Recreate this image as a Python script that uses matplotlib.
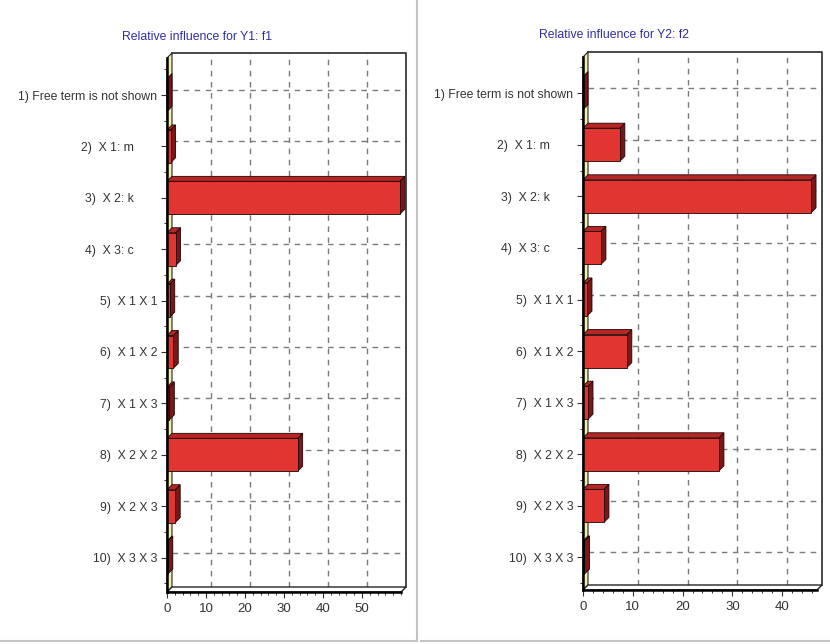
import matplotlib.pyplot as plt
from matplotlib.patches import Polygon, Rectangle
from matplotlib.lines import Line2D
from matplotlib.ticker import MultipleLocator, FixedLocator

plt.rcParams['font.family'] = ['Liberation Sans', 'DejaVu Sans']

labels = ['1) Free term is not shown', '2)  X 1: m\u00a0\u00a0\u00a0\u00a0\u00a0\u00a0\u00a0',
          '3)  X 2: k\u00a0\u00a0\u00a0\u00a0\u00a0\u00a0\u00a0', '4)  X 3: c\u00a0\u00a0\u00a0\u00a0\u00a0\u00a0\u00a0',
          '5)  X 1 X 1', '6)  X 1 X 2', '7)  X 1 X 3', '8)  X 2 X 2',
          '9)  X 2 X 3', '10)  X 3 X 3']
infl_y1 = [0.0, 0.9, 59.7, 2.2, 0.7, 1.6, 0.6, 33.5, 2.1, 0.2]
infl_y2 = [0.0, 7.4, 45.8, 3.6, 0.8, 8.8, 1.0, 27.3, 4.2, 0.3]

W, H = 830, 644
fig = plt.figure(figsize=(W / 100, H / 100), dpi=100)

DEPTH = 5  # px, depth of the 3d effect
FRONT = '#e03530'
TOP = '#b82525'
SIDE = '#7c1717'
WALL = '#f3efa6'


def px_axes(x0, y0, x1, y1):
    # axes from pixel box (top-left origin)
    return fig.add_axes([x0 / W, (H - y1) / H, (x1 - x0) / W, (y1 - y0) / H])


def draw_panel(ax, values, xmax, xticks, ylim, title, title_xy):
    n = len(values)
    ax.set_xlim(0, xmax)
    ax.set_ylim(*ylim)
    ax.patch.set_visible(False)
    for s in ['top', 'right']:
        ax.spines[s].set_visible(False)
    for s in ['left', 'bottom']:
        ax.spines[s].set_linewidth(1.8)
        ax.spines[s].set_color('black')
        ax.spines[s].set_zorder(6)

    # depth offset in data units
    p0 = ax.transData.transform((0, 0))
    dx, dy = ax.transData.inverted().transform((p0[0] + DEPTH, p0[1] + DEPTH))
    ybot, ytop = ylim

    # back wall grid
    for gx in xticks[1:]:
        ax.add_line(Line2D([gx + dx, gx + dx], [ybot + dy, ytop + dy], color='#7a7a7a',
                           lw=1.0, ls=(0, (4, 4)), clip_on=False, zorder=1))
    for i in range(n):
        ax.add_line(Line2D([dx, xmax + dx], [i + dy, i + dy], color='#7a7a7a',
                           lw=1.0, ls=(0, (4, 4)), clip_on=False, zorder=1))
    # back frame
    ax.add_line(Line2D([dx, xmax + dx, xmax + dx], [ytop + dy, ytop + dy, ybot + dy],
                       color='#3a3a3a', lw=1.3, clip_on=False, zorder=2))

    # left wall and floor
    ax.add_patch(Polygon([(0, ytop), (dx, ytop + dy), (dx, ybot + dy), (0, ybot)],
                         closed=True, facecolor=WALL, edgecolor='#222222', lw=0.8,
                         clip_on=False, zorder=3))
    ax.add_patch(Polygon([(0, ybot), (xmax, ybot), (xmax + dx, ybot + dy), (dx, ybot + dy)],
                         closed=True, facecolor='white', edgecolor='#222222', lw=1.0,
                         clip_on=False, zorder=3))

    # bars
    h = 0.32
    for i, v in enumerate(values):
        yt, yb = i - h, i + h
        ax.add_patch(Polygon([(v, yt), (v + dx, yt + dy), (v + dx, yb + dy), (v, yb)],
                             closed=True, facecolor=SIDE, edgecolor='#1a0505', lw=0.6,
                             clip_on=False, zorder=4))
        if v > 0:
            ax.add_patch(Polygon([(0, yt), (v, yt), (v + dx, yt + dy), (dx, yt + dy)],
                                 closed=True, facecolor=TOP, edgecolor='#1a0505', lw=0.6,
                                 clip_on=False, zorder=4))
            ax.add_patch(Rectangle((0, yt), v, 2 * h, facecolor=FRONT,
                                   edgecolor='#1a0505', lw=0.6, zorder=5))

    ax.set_yticks(range(n))
    ax.set_yticklabels(labels)
    ax.yaxis.set_minor_locator(MultipleLocator(0.5))
    ax.xaxis.set_major_locator(FixedLocator(xticks))
    ax.xaxis.set_minor_locator(MultipleLocator(2))
    ax.tick_params(axis='both', which='major', length=4, width=0.8, colors='#333333',
                   labelsize=8.8, labelcolor='#333333', pad=3)
    ax.tick_params(axis='both', which='minor', length=2.5, width=0.7, colors='#333333')
    ax.tick_params(axis='x', labelsize=9.5, pad=4)
    fig.text(title_xy[0] / W, 1 - title_xy[1] / H, title, color='#2e2ea6',
             fontsize=8.8, ha='center', va='center')


ax1 = px_axes(167, 58, 401, 592)
draw_panel(ax1, infl_y1, 60, [0, 10, 20, 30, 40, 50], (9.67, -0.72),
           'Relative influence for Y1: f1', (197, 37))

ax2 = px_axes(583, 57, 817, 590)
draw_panel(ax2, infl_y2, 47, [0, 10, 20, 30, 40], (9.63, -0.70),
           'Relative influence for Y2: f2', (614, 35))

# panel borders
border = '#c4c4c4'
fig.add_artist(Line2D([416.5 / W, 416.5 / W], [1, 1 - 641 / H], color=border, lw=1.5))
fig.add_artist(Line2D([0, 416.5 / W], [1 - 641 / H, 1 - 641 / H], color=border, lw=1.5))
fig.add_artist(Line2D([421 / W, 1], [1 - 641 / H, 1 - 641 / H], color=border, lw=1.5))

fig.savefig('out.png', dpi=100, facecolor='white')
